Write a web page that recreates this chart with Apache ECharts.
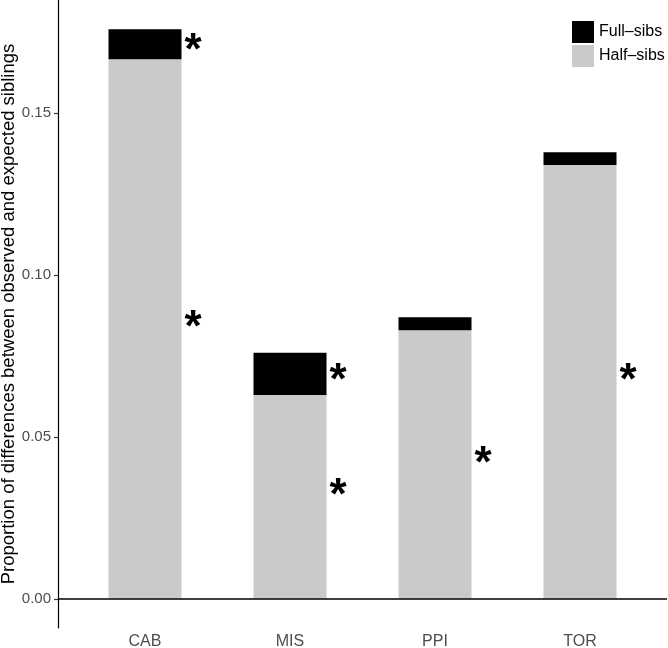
<!DOCTYPE html>
<html>
<head>
<meta charset="utf-8">
<script src="https://cdn.jsdelivr.net/npm/echarts@6/dist/echarts.min.js"></script>
<style>
html,body{margin:0;padding:0;background:#fff;}
#chart{width:668px;height:648px;}
</style>
</head>
<body>
<div id="chart"></div>
<script>
var categories = ['CAB', 'MIS', 'PPI', 'TOR'];
var halfSibs = [0.1667, 0.063, 0.083, 0.134];
var fullSibs = [0.0093, 0.013, 0.004, 0.004];
var halfSig = [true, true, true, true];
var fullSig = [true, true, false, false];
var yTicks = [0, 0.05, 0.10, 0.15];
var xTicks = [1, 2, 3, 4];

// value first so that it is the stacked dimension; position second
function pts(arr) { return arr.map(function (v, i) { return [v, i + 1]; }); }

var chart = echarts.init(document.getElementById('chart'));
var starLabel = function (sig, dy) {
  return {
    show: true,
    position: 'right',
    distance: 3,
    offset: [0, dy],
    fontSize: 44,
    fontWeight: 'bold',
    color: '#000',
    fontFamily: 'Liberation Sans',
    formatter: function (p) { return sig[p.dataIndex] ? '*' : ''; }
  };
};
chart.setOption({
  animation: false,
  textStyle: { fontFamily: 'Liberation Sans' },
  grid: { left: 58, right: 1, top: 0, bottom: 20, containLabel: false, outerBoundsMode: 'none' },
  legend: {
    orient: 'vertical',
    left: 567,
    top: 16,
    itemWidth: 22,
    itemHeight: 22,
    itemGap: 2,
    icon: 'rect',
    data: ['Full–sibs', 'Half–sibs'],
    textStyle: { fontSize: 16, color: '#000' }
  },
  xAxis: {
    type: 'value',
    min: 0.4,
    max: 4.6,
    splitLine: { show: false },
    axisLine: { show: false, onZero: false },
    axisTick: { show: false },
    axisLabel: {
      customValues: xTicks,
      margin: 6,
      fontSize: 16,
      color: '#4d4d4d',
      formatter: function (v) { return categories[Math.round(v) - 1] || ''; }
    }
  },
  yAxis: {
    type: 'value',
    min: -0.009,
    max: 0.185,
    name: 'Proportion of differences between observed and expected siblings',
    nameLocation: 'middle',
    nameGap: 40,
    nameMoveOverlap: false,
    nameTextStyle: { fontSize: 18.5, color: '#000' },
    splitLine: { show: false },
    axisLine: { show: true, onZero: false, lineStyle: { color: '#000', width: 1.2 } },
    axisTick: { show: true, customValues: yTicks, length: 4, lineStyle: { color: '#333', width: 1.2 } },
    axisLabel: {
      customValues: yTicks,
      margin: 7,
      fontSize: 15,
      color: '#4d4d4d',
      formatter: function (v) { return v.toFixed(2); }
    }
  },
  series: [
    {
      name: 'Half–sibs',
      type: 'bar',
      stack: 's',
      barWidth: 73,
      dimensions: ['val', 'pos'],
      encode: { x: 'pos', y: 'val' },
      data: pts(halfSibs),
      itemStyle: { color: '#cacaca' },
      label: starLabel(halfSig, 0),
      markLine: {
        silent: true,
        symbol: 'none',
        label: { show: false },
        lineStyle: { color: '#000', width: 1.5, type: 'solid' },
        data: [{ yAxis: 0 }]
      }
    },
    {
      name: 'Full–sibs',
      type: 'bar',
      stack: 's',
      barWidth: 73,
      dimensions: ['val', 'pos'],
      encode: { x: 'pos', y: 'val' },
      data: pts(fullSibs),
      itemStyle: { color: '#000' },
      label: starLabel(fullSig, 8)
    }
  ]
});
</script>
</body>
</html>
